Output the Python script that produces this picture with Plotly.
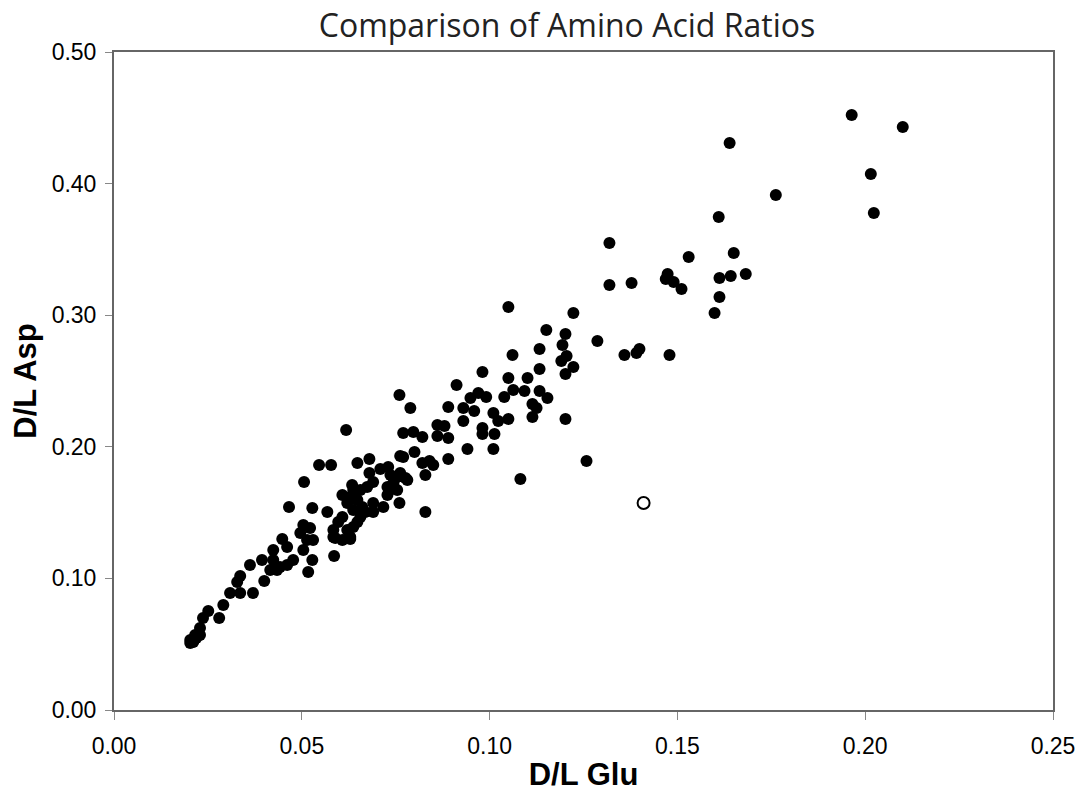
import plotly.graph_objects as go

glu = [0.0203, 0.0211, 0.0219, 0.0203, 0.0216, 0.0229, 0.0229, 0.0237, 0.0251, 0.0280,
       0.0291, 0.0309, 0.0336, 0.0328, 0.0336, 0.0370, 0.0400, 0.0362, 0.0394, 0.0424,
       0.0416, 0.0434, 0.0424, 0.0442, 0.0461, 0.0477, 0.0448, 0.0461, 0.0466, 0.0506,
       0.0504, 0.0522, 0.0496, 0.0514, 0.0530, 0.0504, 0.0528, 0.0517, 0.0528, 0.0568,
       0.0584, 0.0584, 0.0586, 0.0546, 0.0578, 0.0618, 0.0608, 0.0597, 0.0621, 0.0629,
       0.0637, 0.0589, 0.0608, 0.0629, 0.0656, 0.0648, 0.0637, 0.0669, 0.0661, 0.0648,
       0.0621, 0.0608, 0.0629, 0.0634, 0.0637, 0.0656, 0.0674, 0.0690, 0.0690, 0.0690,
       0.0717, 0.0648, 0.0680, 0.0680, 0.0709, 0.0730, 0.0754, 0.0762, 0.0776, 0.0744,
       0.0728, 0.0754, 0.0728, 0.0760, 0.0760, 0.0789, 0.0770, 0.0797, 0.0821, 0.0861,
       0.0861, 0.0762, 0.0770, 0.0800, 0.0821, 0.0840, 0.0850, 0.0829, 0.0829, 0.0736,
       0.0781, 0.0880, 0.0890, 0.0890, 0.0890, 0.0912, 0.0930, 0.0949, 0.0959, 0.0930,
       0.0941, 0.0970, 0.0981, 0.0991, 0.0981, 0.0981, 0.1010, 0.1013, 0.1010, 0.1023,
       0.1039, 0.1050, 0.1050, 0.1063, 0.1061, 0.1050, 0.1082, 0.1093, 0.1101, 0.1114,
       0.1125, 0.1114, 0.1133, 0.1133, 0.1133, 0.1154, 0.1151, 0.1191, 0.1194, 0.1202,
       0.1205, 0.1223, 0.1202, 0.1202, 0.1223, 0.1258, 0.1287, 0.1319, 0.1319, 0.1359,
       0.1391, 0.1399, 0.1378, 0.1474, 0.1469, 0.1490, 0.1511, 0.1479, 0.1530, 0.1650,
       0.1612, 0.1642, 0.1682, 0.1612, 0.1599, 0.1639, 0.1610, 0.1762, 0.1964, 0.2100,
       0.2015, 0.2023]

asp = [0.0532, 0.0517, 0.0547, 0.0509, 0.0570, 0.0570, 0.0623, 0.0699, 0.0752, 0.0699,
       0.0798, 0.0889, 0.0889, 0.0973, 0.1018, 0.0889, 0.0980, 0.1102, 0.1140, 0.1216,
       0.1064, 0.1064, 0.1140, 0.1087, 0.1102, 0.1140, 0.1299, 0.1239, 0.1543, 0.1733,
       0.1406, 0.1383, 0.1345, 0.1292, 0.1292, 0.1216, 0.1140, 0.1049, 0.1535, 0.1505,
       0.1368, 0.1315, 0.1170, 0.1862, 0.1862, 0.2128, 0.1467, 0.1429, 0.1368, 0.1315,
       0.1391, 0.1307, 0.1292, 0.1299, 0.1467, 0.1429, 0.1520, 0.1505, 0.1543, 0.1596,
       0.1573, 0.1634, 0.1619, 0.1710, 0.1672, 0.1672, 0.1695, 0.1733, 0.1573, 0.1505,
       0.1543, 0.1877, 0.1907, 0.1801, 0.1831, 0.1846, 0.1771, 0.1801, 0.1763, 0.1725,
       0.1695, 0.1672, 0.1634, 0.1573, 0.2394, 0.2295, 0.2105, 0.2112, 0.2074, 0.2166,
       0.2082, 0.1930, 0.1922, 0.1960, 0.1877, 0.1892, 0.1862, 0.1786, 0.1505, 0.1786,
       0.1748, 0.2158, 0.2302, 0.2067, 0.1907, 0.2470, 0.2295, 0.2371, 0.2272, 0.2196,
       0.1983, 0.2409, 0.2568, 0.2378, 0.2143, 0.2097, 0.2257, 0.2097, 0.1983, 0.2196,
       0.2378, 0.2211, 0.2523, 0.2432, 0.2698, 0.3062, 0.1755, 0.2424, 0.2523, 0.2325,
       0.2295, 0.2226, 0.2591, 0.2743, 0.2424, 0.2371, 0.2888, 0.2652, 0.2774, 0.2857,
       0.2690, 0.2606, 0.2553, 0.2211, 0.3017, 0.1892, 0.2804, 0.3549, 0.3230, 0.2698,
       0.2713, 0.2743, 0.3245, 0.3313, 0.3275, 0.3252, 0.3199, 0.2698, 0.3442, 0.3473,
       0.3283, 0.3298, 0.3313, 0.3138, 0.3017, 0.4309, 0.3746, 0.3913, 0.4521, 0.4430,
       0.4073, 0.3777]

outlier_glu = [0.1410]
outlier_asp = [0.1573]

x_ticks = [0.00, 0.05, 0.10, 0.15, 0.20, 0.25]
y_ticks = [0.00, 0.10, 0.20, 0.30, 0.40, 0.50]

fig = go.Figure()
fig.add_trace(go.Scatter(x=glu, y=asp, mode="markers",
                         marker=dict(size=12, color="black", line=dict(width=0)),
                         showlegend=False))
fig.add_trace(go.Scatter(x=outlier_glu, y=outlier_asp, mode="markers",
                         marker=dict(size=12, color="white", line=dict(width=2, color="black")),
                         showlegend=False))

fig.update_layout(
    width=1082, height=793,
    margin=dict(l=114, r=29, t=52, b=83),
    paper_bgcolor="white", plot_bgcolor="white",
    title=dict(text="Comparison of Amino Acid Ratios", x=0.524, xref="container",
               xanchor="center", y=0.968, yref="container", yanchor="middle",
               font=dict(family="Open Sans, sans-serif", size=32, color="#222")),
    font=dict(family="Liberation Sans, Arial, sans-serif", color="black"),
)
fig.update_xaxes(range=[0, 0.25], tickvals=x_ticks, ticktext=[f"{v:.2f}" for v in x_ticks],
                 showgrid=False, zeroline=False, showline=True, linecolor="#666", linewidth=2,
                 mirror=True, ticks="outside", ticklen=8, tickcolor="#888", tickwidth=1,
                 tickfont=dict(size=23), ticklabelstandoff=6, automargin=False,
                 title=dict(text="<b>D/L Glu</b>", font=dict(size=31), standoff=6))
fig.update_yaxes(range=[0, 0.5], tickvals=y_ticks, ticktext=[f"{v:.2f}" for v in y_ticks],
                 showgrid=False, zeroline=False, showline=True, linecolor="#666", linewidth=2,
                 mirror=True, ticks="outside", ticklen=7, tickcolor="#888", tickwidth=1,
                 tickfont=dict(size=23), ticklabelstandoff=4, automargin=False,
                 title=dict(text="<b>D/L Asp</b>", font=dict(size=31), standoff=6))

fig.write_html("out.html")
